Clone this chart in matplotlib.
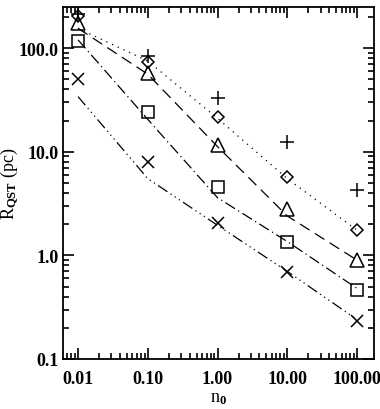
import matplotlib
matplotlib.use("Agg")
import matplotlib.pyplot as plt
from matplotlib.ticker import FixedLocator, LogLocator, NullFormatter, FixedFormatter

plt.rcParams['font.family'] = 'Liberation Serif'
plt.rcParams['font.weight'] = 'bold'
plt.rcParams['mathtext.fontset'] = 'custom'
plt.rcParams['mathtext.rm'] = 'Liberation Serif:bold'
plt.rcParams['mathtext.it'] = 'Liberation Serif:bold'
plt.rcParams['mathtext.bf'] = 'Liberation Serif:bold'

n0 = [0.01, 0.1, 1.0, 10.0, 100.0]

# measured points
plus_pts = [212, 84, 33, 12.5, 4.3]
diamond_pts = [203, 73, 21.7, 5.75, 1.74]
triangle_pts = [174, 57.5, 11.7, 2.77, 0.9]
square_pts = [117, 24.2, 4.6, 1.36, 0.46]
cross_pts = [50, 8.0, 2.03, 0.69, 0.23]

# model curves
dotted_line = [155, 75, 21, 5.5, 1.75]
dashed_line = [155, 56, 11.2, 2.4, 0.9]
dashdot_line = [120, 20.5, 3.6, 1.36, 0.48]
dash3dot_line = [34, 5.5, 1.95, 0.7, 0.24]

xticks = [0.01, 0.1, 1.0, 10.0, 100.0]
xticklabels = ["0.01", "0.10", "1.00", "10.00", "100.00"]
yticks = [0.1, 1.0, 10.0, 100.0]
yticklabels = ["0.1", "1.0", "10.0", "100.0"]

fig = plt.figure(figsize=(3.8, 4.1), dpi=100)
ax = fig.add_axes([0.166, 0.122, 0.818, 0.858])
ax.set_xscale('log')
ax.set_yscale('log')

lw = 0.9
ax.plot(n0, dotted_line, color='k', lw=lw, ls=(0, (1, 4)))
ax.plot(n0, dashed_line, color='k', lw=lw, ls=(0, (9, 5)))
ax.plot(n0, dashdot_line, color='k', lw=lw, ls=(0, (9, 3, 1, 3)))
ax.plot(n0, dash3dot_line, color='k', lw=lw, ls=(0, (9, 3, 1, 3, 1, 3, 1, 3)))

mk = dict(color='k', ls='none', mfc='none', mec='k', mew=1.1)
ax.plot(n0, plus_pts, marker='+', ms=10, **mk)
ax.plot(n0, diamond_pts, marker='D', ms=6, **mk)
ax.plot(n0, triangle_pts, marker='^', ms=10, **mk)
ax.plot(n0, square_pts, marker='s', ms=9, **mk)
ax.plot(n0, cross_pts, marker='x', ms=9, **mk)

ax.set_xlim(0.0061, 175)
ax.set_ylim(0.1, 248)

ax.xaxis.set_major_locator(FixedLocator(xticks))
ax.xaxis.set_major_formatter(FixedFormatter(xticklabels))
ax.xaxis.set_minor_locator(LogLocator(base=10, subs=range(2, 10)))
ax.xaxis.set_minor_formatter(NullFormatter())
ax.yaxis.set_major_locator(FixedLocator(yticks))
ax.yaxis.set_major_formatter(FixedFormatter(yticklabels))
ax.yaxis.set_minor_locator(LogLocator(base=10, subs=range(2, 10)))
ax.yaxis.set_minor_formatter(NullFormatter())

ax.tick_params(which='both', direction='in', top=True, right=True, width=1.2, labelsize=13)
ax.tick_params(axis='x', which='major', length=8, pad=8)
ax.tick_params(axis='y', which='major', length=8, pad=3)
ax.tick_params(which='minor', length=4)
for s in ax.spines.values():
    s.set_linewidth(1.3)

ax.set_xlabel(r'n$_0$', fontsize=13)
ax.xaxis.set_label_coords(0.5, -0.085)
ax.set_ylabel(r'R$_{\rm QST}$ (pc)', fontsize=13)
ax.yaxis.set_label_coords(-0.135, 0.5)

fig.savefig("out.png", dpi=100)
